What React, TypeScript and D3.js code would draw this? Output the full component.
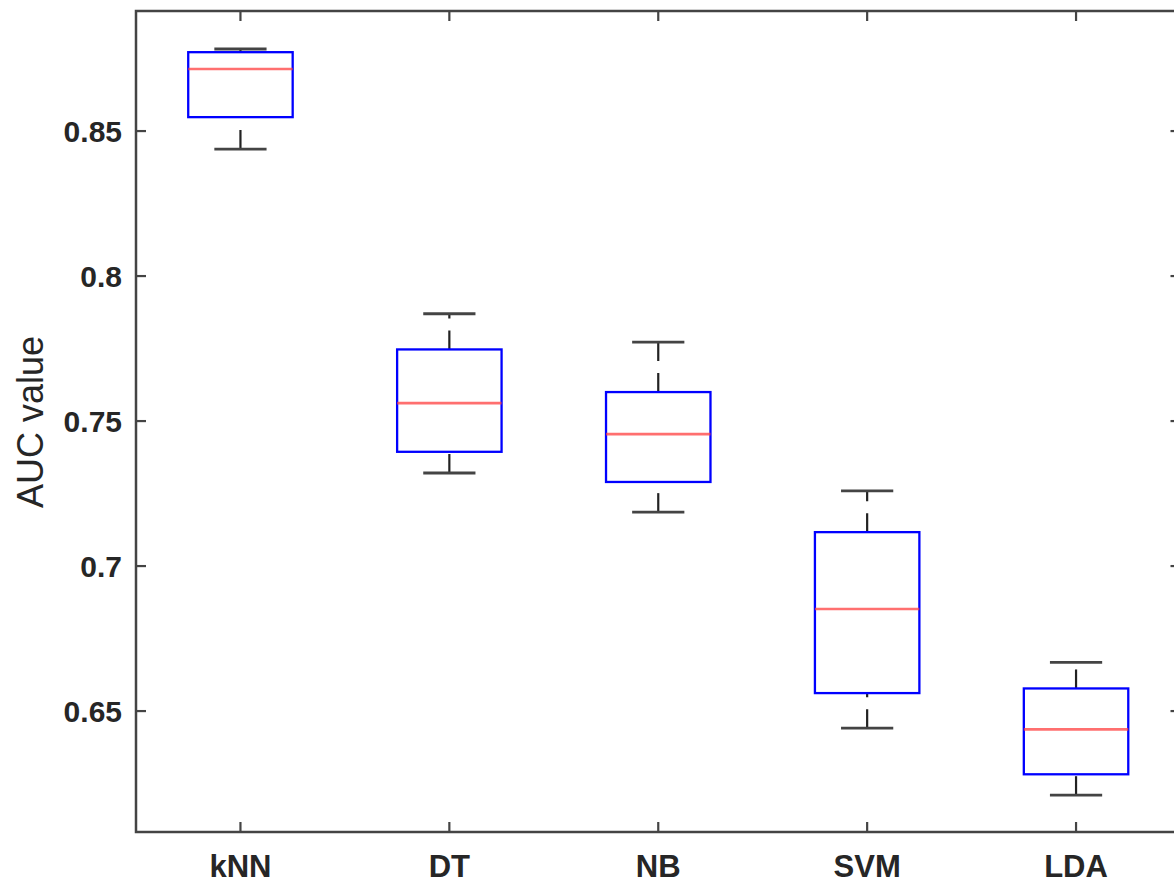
import React from "react";
import * as d3 from "d3";

const categories = ["kNN", "DT", "NB", "SVM", "LDA"];
const upperWhisker = [0.8783, 0.787, 0.7772, 0.7259, 0.6668];
const q3Values = [0.8772, 0.7747, 0.7600, 0.7117, 0.6578];
const medianValues = [0.8714, 0.7562, 0.7455, 0.6852, 0.6437];
const q1Values = [0.8548, 0.7394, 0.7290, 0.6562, 0.6282];
const lowerWhisker = [0.8438, 0.7321, 0.7186, 0.6441, 0.6210];
const yTicks = [0.65, 0.7, 0.75, 0.8, 0.85];
const yTickLabels = ["0.65", "0.7", "0.75", "0.8", "0.85"];

const W = 1174;
const H = 888;
const left = 136;
const right = 1180.5;
const top = 11;
const bottom = 832;

export default function App() {
  const x = d3.scaleLinear().domain([0.5, 5.5]).range([left, right]);
  const y = d3.scaleLinear().domain([0.6083, 0.8914]).range([bottom, top]);
  const axisColor = "#262626";
  const lineColor = "#444";
  const font = "'Liberation Sans', Arial, Helvetica, sans-serif";
  const boxHalf = x(1.25) - x(1);
  const capHalf = x(1.125) - x(1);
  const tickLen = 10;

  return (
    <svg
      width={W}
      height={H}
      style={{ position: "absolute", left: 0, top: 0, background: "#fff" }}
    >
      <rect x={0} y={0} width={W} height={H} fill="#fff" />
      {categories.map((c, i) => {
        const cx = x(i + 1);
        return (
          <g key={c}>
            <line
              x1={cx}
              x2={cx}
              y1={y(q3Values[i])}
              y2={y(upperWhisker[i])}
              stroke="#222"
              strokeWidth={2.2}
              strokeDasharray="19 12"
            />
            <line
              x1={cx}
              x2={cx}
              y1={y(lowerWhisker[i])}
              y2={y(q1Values[i])}
              stroke="#222"
              strokeWidth={2.2}
              strokeDasharray="19 12"
            />
            <line
              x1={cx - capHalf}
              x2={cx + capHalf}
              y1={y(upperWhisker[i])}
              y2={y(upperWhisker[i])}
              stroke={lineColor}
              strokeWidth={2.8}
            />
            <line
              x1={cx - capHalf}
              x2={cx + capHalf}
              y1={y(lowerWhisker[i])}
              y2={y(lowerWhisker[i])}
              stroke={lineColor}
              strokeWidth={2.8}
            />
            <rect
              x={cx - boxHalf}
              y={y(q3Values[i])}
              width={boxHalf * 2}
              height={y(q1Values[i]) - y(q3Values[i])}
              fill="none"
              stroke="#0000ff"
              strokeWidth={2.3}
            />
            <line
              x1={cx - boxHalf}
              x2={cx + boxHalf}
              y1={y(medianValues[i])}
              y2={y(medianValues[i])}
              stroke="#ff4040"
              strokeWidth={2.6}
              opacity={0.75}
            />
          </g>
        );
      })}
      <rect
        x={left}
        y={top}
        width={right - left}
        height={bottom - top}
        fill="none"
        stroke={lineColor}
        strokeWidth={2.5}
      />
      {yTicks.map((t, i) => (
        <g key={t}>
          <line x1={left} x2={left + tickLen} y1={y(t)} y2={y(t)} stroke={lineColor} strokeWidth={2.2} />
          <line x1={right} x2={right - tickLen} y1={y(t)} y2={y(t)} stroke={lineColor} strokeWidth={2.2} />
          <text
            x={left - 14}
            y={y(t)}
            dy="0.36em"
            textAnchor="end"
            fontFamily={font}
            fontWeight="bold"
            fontSize={30}
            fill={axisColor}
          >
            {yTickLabels[i]}
          </text>
        </g>
      ))}
      {categories.map((c, i) => (
        <g key={c}>
          <line x1={x(i + 1)} x2={x(i + 1)} y1={bottom} y2={bottom - tickLen} stroke={lineColor} strokeWidth={2.2} />
          <line x1={x(i + 1)} x2={x(i + 1)} y1={top} y2={top + tickLen} stroke={lineColor} strokeWidth={2.2} />
          <text
            x={x(i + 1)}
            y={877}
            textAnchor="middle"
            fontFamily={font}
            fontWeight="bold"
            fontSize={31}
            fill={axisColor}
          >
            {c}
          </text>
        </g>
      ))}
      <text
        transform={`translate(43, 422) rotate(-90)`}
        textAnchor="middle"
        fontFamily={font}
        fontSize={36}
        fill={axisColor}
      >
        AUC value
      </text>
    </svg>
  );
}
